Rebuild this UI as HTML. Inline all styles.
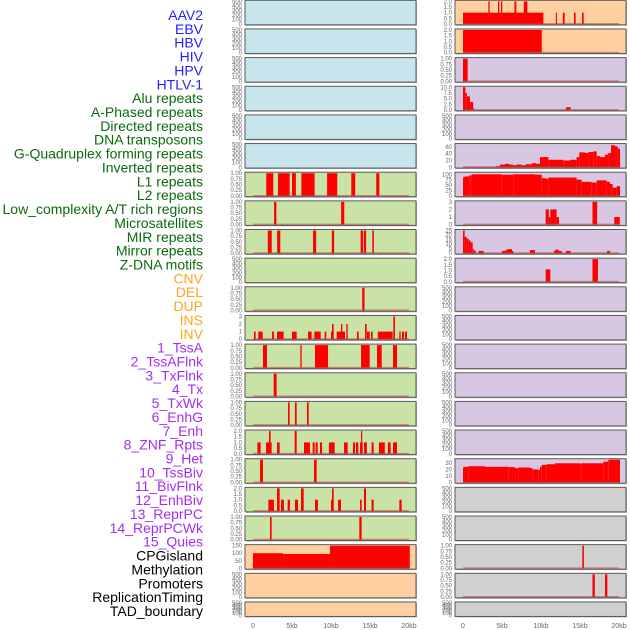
<!DOCTYPE html>
<html><head><meta charset="utf-8">
<style>
html,body{margin:0;padding:0;background:#fff;}
svg{display:block;font-family:"Liberation Sans",sans-serif;}
</style></head>
<body>
<svg id="chart" width="630" height="630" viewBox="0 0 630 630">
<g id="labels"></g>
<g id="panels"></g>
<g id="xaxis"></g>
</svg>
<script>
// ---------- data ----------
const trackNames = ["AAV2","EBV","HBV","HIV","HPV","HTLV-1","Alu repeats","A-Phased repeats","Directed repeats","DNA transposons","G-Quadruplex forming repeats","Inverted repeats","L1 repeats","L2 repeats","Low_complexity A/T rich regions","Microsatellites","MIR repeats","Mirror repeats","Z-DNA motifs","CNV","DEL","DUP","INS","INV","1_TssA","2_TssAFlnk","3_TxFlnk","4_Tx","5_TxWk","6_EnhG","7_Enh","8_ZNF_Rpts","9_Het","10_TssBiv","11_BivFlnk","12_EnhBiv","13_ReprPC","14_ReprPCWk","15_Quies","CPGisland","Methylation","Promoters","ReplicationTiming","TAD_boundary"];
const trackColors = ["#2323f5","#2323f5","#2323f5","#2323f5","#2323f5","#2323f5","#0b6b0b","#0b6b0b","#0b6b0b","#0b6b0b","#0b6b0b","#0b6b0b","#0b6b0b","#0b6b0b","#0b6b0b","#0b6b0b","#0b6b0b","#0b6b0b","#0b6b0b","#ffa51e","#ffa51e","#ffa51e","#ffa51e","#ffa51e","#a32ef0","#a32ef0","#a32ef0","#a32ef0","#a32ef0","#a32ef0","#a32ef0","#a32ef0","#a32ef0","#a32ef0","#a32ef0","#a32ef0","#a32ef0","#a32ef0","#a32ef0","#000","#000","#000","#000","#000"];
const xTickValues = [0,5,10,15,20];
const xTickLabels = ["0","5kb","10kb","15kb","20kb"];

// left column segments [startKb, endKb, value]
const L7 = [[1.7,2.6,1],[3.2,4.7,1],[5.0,5.5,1],[6.2,7.9,1],[9.5,10.8,1],[12.6,13.1,1],[15.8,16.2,1]];
const L8 = [[2.7,3.0,1],[11.3,11.7,1]];
const L9 = [[1.9,2.4,1],[3.1,3.5,1],[7.7,8.1,1],[10.1,10.4,1],[13.8,14.1,1],[14.2,14.5,1],[15.3,15.5,1]];
const L11 = [[14.0,14.3,1]];
const L12 = [[0.13,0.34,1],[0.68,1.24,1],[2.44,2.69,1],[3.08,3.93,1],[5.0,5.6,1],[7.05,7.52,1],[7.86,8.68,1],[9.19,9.4,1],[10.0,10.34,1],[10.13,10.34,2],[10.73,11.8,1],[11.28,11.45,2],[11.97,12.14,2],[13.33,13.55,1],[14.36,14.57,2],[14.6,14.96,1],[15.13,15.34,1],[16.0,17.9,1],[17.99,18.2,3],[18.76,18.93,1],[19.1,19.36,1],[19.49,19.74,1]];
const L13 = [[1.28,1.79,1],[6.07,6.24,1],[7.95,9.62,1],[13.85,14.96,1],[15.9,16.5,1],[17.95,18.46,1]];
const L14 = [[2.65,3.03,1]];
const L15 = [[4.49,4.7,1],[5.38,5.6,1],[6.92,7.14,1]];
const L16 = [[0.56,0.98,1],[1.67,2.39,1],[2.05,2.26,2],[3.08,3.42,1],[5.34,5.6,2],[6.54,7.3,1],[7.65,7.9,1],[8.03,8.29,1],[8.59,8.85,1],[9.74,10.47,1],[11.67,12.14,1],[12.82,13.08,1],[13.2,13.5,1],[13.72,14.06,1],[13.85,14.0,2],[14.23,14.6,1],[15.2,15.47,1],[16.15,16.9,1],[17.3,17.65,1],[17.95,18.46,1]];
const L17 = [[0.9,1.28,1],[7.82,8.16,1]];
const L18 = [[1.97,2.69,1],[3.08,3.42,2],[3.59,3.97,1],[4.44,4.74,1],[5.38,5.77,1],[6.15,6.5,2],[7.95,8.33,1],[10.0,10.34,1],[10.13,10.34,2],[10.9,11.28,1],[13.72,13.93,1],[14.23,14.49,2],[15.2,15.47,1],[18.76,19.06,1]];
const L19 = [[2.18,2.39,1],[13.63,13.93,1]];
const L20 = [[0,3.85,100],[3.85,9.87,95],[9.87,20.1,150]];

// right column segments
const R1 = [[0,10.3,1],[3.25,3.42,2],[4.49,4.66,2],[4.87,5.04,2],[6.6,6.84,2],[7.8,8.25,2],[11.9,12.05,1],[12.8,13.03,1],[14.23,14.44,1],[15.26,15.47,1]];
const R2 = [[0,10.1,2]];
const R3 = [[0,0.6,1]];
const R4 = [[0,0.3,10],[0.3,0.5,7.5],[0.5,0.9,6],[0.9,1.3,3.5],[1.3,1.4,1],[13.2,13.8,1.2]];
const R6edges = [0,4.23,4.74,5.38,5.94,6.37,6.88,7.52,8.08,8.8,9.44,9.87,10.94,12.86,13.72,14.57,14.91,15.64,16.07,16.7,17.14,17.56,18.2,18.63,18.97,19.49,19.83,20.13];
const R6values = [0.5,3,8,10,8,6,8,6,9,12,10,30,22,20,22,30,44,42,45,47,33,30,37,42,65,62,55];
const R7edges = [0,0.04,0.26,0.81,1.11,4.96,6.45,9.23,10.09,10.64,10.94,14.57,15.21,16.5,17.14,18.42,18.85,19.19,19.7,20.13];
const R7values = [80,88,90,95,100,98,100,98,82,80,85,75,65,62,72,65,55,38,45];
const R8 = [[10.6,11.0,2],[11.0,11.2,1],[11.2,12.0,2],[12.0,12.3,1],[16.6,17.2,3],[19.4,20.1,1]];
const R9 = [[0,0.21,25],[0.21,0.47,18],[0.47,0.73,16],[0.73,0.98,14],[0.98,1.24,12],[1.24,1.37,5],[1.37,1.62,3],[2.0,2.65,2.5],[5.0,5.43,2.5],[5.43,5.68,3.5],[5.68,6.28,4.5],[6.28,6.45,2.5],[8.59,9.23,3.5],[11.67,11.92,3],[11.92,12.26,4],[12.26,12.65,2.5],[13.2,13.8,2.5],[18.46,18.85,2.5]];
const R10 = [[10.6,11.2,1.1],[16.6,17.3,2]];
const R17edges = [0,0.04,0.68,2.82,5.81,6.67,7.09,8.59,8.93,9.66,9.87,10.09,10.73,11.79,15.0,15.21,17.99,18.63,20.13];
const R17values = [22,24,25,24,23.5,22,23,22,20,19,24,27,28,29.5,29,29.5,32,35];
const R19 = [[15.3,15.5,1]];
const R20 = [[16.6,16.9,1],[18.2,18.5,1]];

const T500 = ["0","100","200","300","400","500"], T1=["0.00","0.25","0.50","0.75","1.00"], T2=["0.0","0.5","1.0","1.5","2.0"];
const BLUE="#c8e4ec", GREEN="#c9e2a5", ORANGE="#ffd09f", PURPLE="#d7c7e3", GREY="#d0d0d0";

function steps(edges, vals){ const s=[]; for(let i=0;i<vals.length;i++) s.push([edges[i],edges[i+1],vals[i]]); return s; }

// [segments|null, ymax, tickValues, tickLabels, bg]
const leftCfg = [
 [null,500,[0,100,200,300,400,500],T500,BLUE],[null,500,[0,100,200,300,400,500],T500,BLUE],[null,500,[0,100,200,300,400,500],T500,BLUE],
 [null,500,[0,100,200,300,400,500],T500,BLUE],[null,500,[0,100,200,300,400,500],T500,BLUE],[null,500,[0,100,200,300,400,500],T500,BLUE],
 [L7,1,[0,.25,.5,.75,1],T1,GREEN],[L8,1,[0,.25,.5,.75,1],T1,GREEN],[L9,1,[0,.25,.5,.75,1],T1,GREEN],
 [null,500,[0,100,200,300,400,500],T500,GREEN],[L11,1,[0,.25,.5,.75,1],T1,GREEN],[L12,3,[0,1,2,3],["0","1","2","3"],GREEN],
 [L13,1,[0,.25,.5,.75,1],T1,GREEN],[L14,1,[0,.25,.5,.75,1],T1,GREEN],[L15,1,[0,.25,.5,.75,1],T1,GREEN],
 [L16,2,[0,.5,1,1.5,2],T2,GREEN],[L17,1,[0,.25,.5,.75,1],T1,GREEN],[L18,2,[0,.5,1,1.5,2],T2,GREEN],
 [L19,1,[0,.25,.5,.75,1],T1,GREEN],[L20,150,[0,50,100,150],["0","50","100","150"],ORANGE],
 [null,500,[0,100,200,300,400,500],T500,ORANGE],[null,500,[0,100,200,300,400,500],T500,ORANGE]
];
const rightCfg = [
 [R1,2,[0,.5,1,1.5,2],T2,ORANGE],[R2,2,[0,.5,1,1.5,2],T2,ORANGE],[R3,1,[0,.25,.5,.75,1],T1,PURPLE],
 [R4,10,[0,2.5,5,7.5,10],["0.0","2.5","5.0","7.5","10.0"],PURPLE],[null,500,[0,100,200,300,400,500],T500,PURPLE],
 [steps(R6edges,R6values),67,[0,20,40,60],["0","20","40","60"],PURPLE],
 [steps(R7edges,R7values),105,[0,25,50,75,100],["0","25","50","75","100"],PURPLE],
 [R8,3,[0,1,2,3],["0","1","2","3"],PURPLE],[R9,25,[0,5,10,15,20,25],["0","5","10","15","20","25"],PURPLE],
 [R10,2,[0,.5,1,1.5,2],T2,PURPLE],
 [null,500,[0,100,200,300,400,500],T500,PURPLE],[null,500,[0,100,200,300,400,500],T500,PURPLE],[null,500,[0,100,200,300,400,500],T500,PURPLE],
 [null,500,[0,100,200,300,400,500],T500,PURPLE],[null,500,[0,100,200,300,400,500],T500,PURPLE],[null,500,[0,100,200,300,400,500],T500,PURPLE],
 [steps(R17edges,R17values),35,[0,10,20,30],["0","10","20","30"],PURPLE],
 [null,500,[0,100,200,300,400,500],T500,GREY],[null,500,[0,100,200,300,400,500],T500,GREY],
 [R19,1,[0,.25,.5,.75,1],T1,GREY],[R20,1,[0,.25,.5,.75,1],T1,GREY],
 [null,500,[0,100,200,300,400,500],T500,GREY]
];

// ---------- drawing ----------
const NS="http://www.w3.org/2000/svg";
function mk(tag, attrs, parent){ const e=document.createElementNS(NS,tag); for(const k in attrs) e.setAttribute(k,attrs[k]); parent.appendChild(e); return e; }
const labelsG=document.getElementById('labels'), panelsG=document.getElementById('panels'), xG=document.getElementById('xaxis');

trackNames.forEach((n,i)=>{
  const t=mk('text',{x:203,y:20+i*13.86,'text-anchor':'end','font-size':'14',fill:trackColors[i]},labelsG);
  t.textContent=n;
  
  
});

function drawColumn(cfg, x0, colName){
  const W=171, kbScale=7.8, dataX0=x0+8;
  const xs=kb=>dataX0+kb*kbScale;
  cfg.forEach((c,i)=>{
    const [segs,ymax,tv,tl,bg]=c;
    const top=i*28.65+0.3, h=(i===21)?14.5:24.5, bottom=top+h;
    const ys=v=>bottom-0.8-(v/ymax)*(h-1.8);
    const g=mk('g',{},panelsG);
    
    
    mk('rect',{x:x0+1,y:top+1,width:W,height:h,fill:'#b0b0b0'},g);
    const bgR=mk('rect',{x:x0,y:top,width:W,height:h,fill:bg,stroke:'#5a5a5a','stroke-width':1},g);
    
    
    if(segs){
      segs.forEach(s=>{
        const r=mk('rect',{x:xs(s[0]),y:ys(s[2]),width:Math.max(0.8,xs(s[1])-xs(s[0])),height:ys(0)-ys(s[2]),fill:'#ff0000'},g);
        
        
      });
      mk('line',{x1:xs(0),x2:xs(20),y1:bottom-1,y2:bottom-1,stroke:'rgba(190,60,60,0.55)','stroke-width':1.5},g);
    }
    tv.forEach((v,k)=>{
      const t=mk('text',{x:x0-3,y:ys(v)+2,'text-anchor':'end','font-size':'6',fill:'#666'},g);
      t.textContent=tl[k];
      
      
    });
  });
  xTickValues.forEach((v,k)=>{
    const t=mk('text',{x:xs(v),y:628,'text-anchor':'middle','font-size':'7',fill:'#666'},xG);
    t.textContent=xTickLabels[k];
    
    
  });
}
drawColumn(leftCfg,245,'left');
drawColumn(rightCfg,455,'right');
</script>
</body></html>
